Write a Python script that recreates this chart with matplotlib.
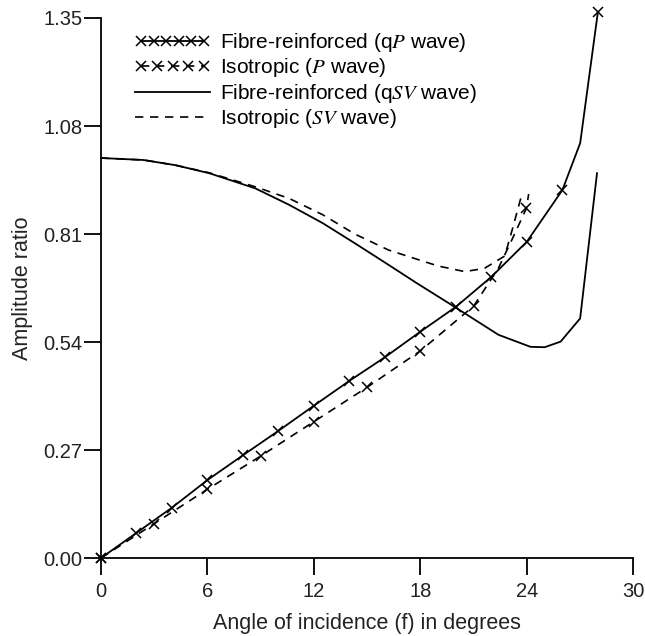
import matplotlib
matplotlib.use('Agg')
import matplotlib.pyplot as plt
from matplotlib.legend_handler import HandlerLine2D

plt.rcParams['font.family'] = ['Liberation Sans', 'DejaVu Sans']
plt.rcParams['mathtext.fontset'] = 'stix'

# fibre-reinforced qP wave
qp_x = [0, 2, 4, 6, 8, 10, 12, 14, 16, 18, 20, 22, 24, 26, 27, 28]
qp_y = [0, 0.063, 0.126, 0.195, 0.257, 0.318, 0.381, 0.443, 0.502, 0.566, 0.628, 0.703, 0.791, 0.92, 1.037, 1.365]
qp_marks = [0, 1, 2, 3, 4, 5, 6, 7, 8, 9, 10, 11, 12, 13, 15]

# isotropic P wave
p_x = [0, 3, 6, 9, 12, 15, 18, 21, 22.4, 23.2, 23.97, 24.1]
p_y = [0, 0.086, 0.172, 0.255, 0.341, 0.427, 0.518, 0.63, 0.725, 0.80, 0.874, 0.91]
p_marks = [0, 1, 2, 3, 4, 5, 6, 7, 10]

# fibre-reinforced qSV wave
qsv_x = [0, 2.4, 4.2, 6.1, 8.7, 10.6, 12.5, 14.3, 16.2, 17.8, 19.85, 22.4, 24.2, 25.0, 25.9, 27.0, 27.95]
qsv_y = [1.0, 0.995, 0.982, 0.962, 0.924, 0.883, 0.837, 0.787, 0.733, 0.687, 0.63, 0.558, 0.528, 0.527, 0.541, 0.599, 0.962]

# isotropic SV wave
sv_x = [0, 2.4, 4.2, 6.1, 8.7, 10.6, 12.5, 14.3, 16.2, 17.8, 19.0, 20.5, 21.6, 22.75, 23.2, 23.7]
sv_y = [1.0, 0.995, 0.982, 0.963, 0.928, 0.899, 0.858, 0.81, 0.77, 0.747, 0.73, 0.716, 0.724, 0.755, 0.825, 0.907]

x_ticks = [0, 6, 12, 18, 24, 30]
y_ticks = [0.00, 0.27, 0.54, 0.81, 1.08, 1.35]

fig = plt.figure(figsize=(6.45, 6.36), dpi=100)
ax = fig.add_axes([0.1566, 0.1226, 0.8254, 0.8491])

l1, = ax.plot(qp_x, qp_y, color='black', lw=1.3, marker='x', ms=7, mew=1.1,
              markevery=qp_marks, clip_on=False, label='Fibre-reinforced (q$P$ wave)')
l2, = ax.plot(p_x, p_y, color='black', lw=1.2, ls=(0, (5, 4)), marker='x', ms=7, mew=1.1,
              markevery=p_marks, clip_on=False, label='Isotropic ($P$ wave)')
l3, = ax.plot(qsv_x, qsv_y, color='black', lw=1.3, clip_on=False,
              label='Fibre-reinforced (q$SV$ wave)')
l4, = ax.plot(sv_x, sv_y, color='black', lw=1.2, ls=(0, (5, 4)), clip_on=False,
              label='Isotropic ($SV$ wave)')

ax.set_xlim(0, 30)
ax.set_ylim(0, 1.35)
ax.set_xticks(x_ticks)
ax.set_yticks(y_ticks)
ax.set_yticklabels(['%.2f' % v for v in y_ticks])
ax.spines['top'].set_visible(False)
ax.spines['right'].set_visible(False)
for s in ['left', 'bottom']:
    ax.spines[s].set_linewidth(1.3)
ax.tick_params(direction='out', length=12, width=1.3, labelsize=14.5, labelcolor='#222222')
ax.tick_params(axis='x', pad=5)
ax.tick_params(axis='y', pad=1.5)

ax.set_xlabel('Angle of incidence (f) in degrees', fontsize=15.5, color='#222222', labelpad=9)
ax.set_ylabel('Amplitude ratio', fontsize=15.5, color='#222222', labelpad=7)

ax.legend(handles=[l1, l2, l3, l4], loc='upper left', bbox_to_anchor=(0.064, 0.976),
          frameon=False, fontsize=15, handlelength=3.6, handletextpad=0.5,
          labelspacing=0.12, borderpad=0, borderaxespad=0,
          handler_map={l1: HandlerLine2D(numpoints=6), l2: HandlerLine2D(numpoints=5)})

fig.savefig('out.png', dpi=100)
